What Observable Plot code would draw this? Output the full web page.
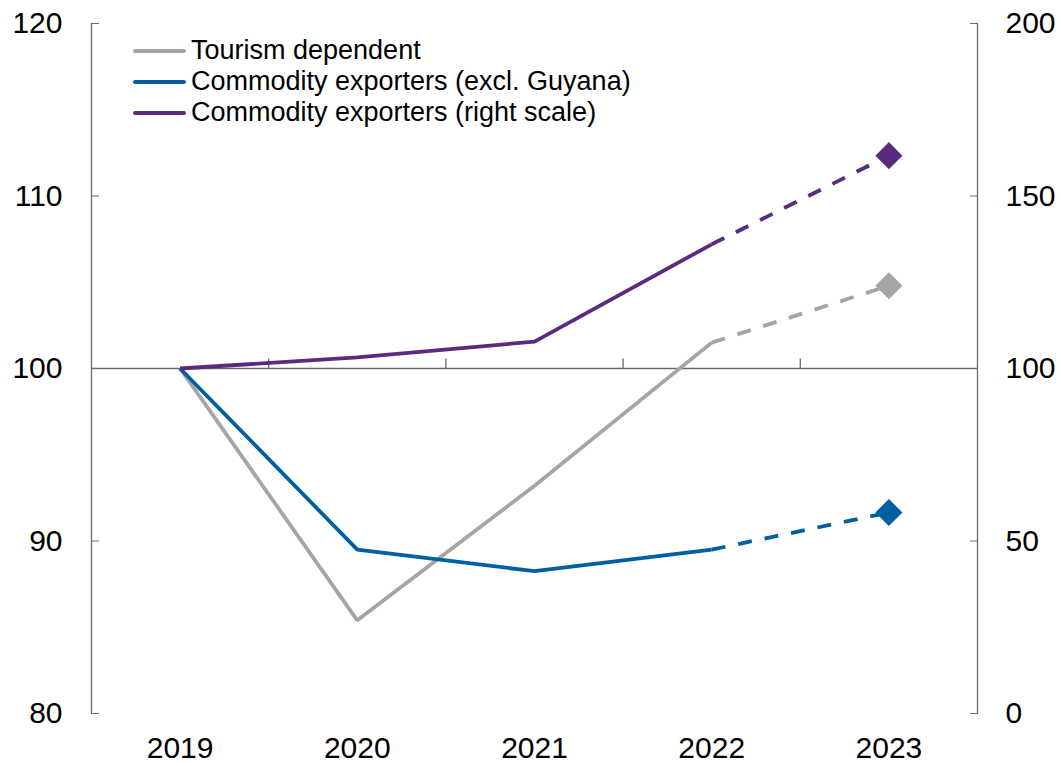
<!DOCTYPE html>
<html>
<head>
<meta charset="utf-8">
<script src="https://cdn.jsdelivr.net/npm/d3@7"></script>
<script src="https://cdn.jsdelivr.net/npm/@observablehq/plot@0.6"></script>
<style>
  html, body { margin: 0; padding: 0; background: #fff; }
  #wrap { position: relative; width: 1061px; height: 766px; font-family: "Liberation Sans", Arial, sans-serif; }
  #legend { position: absolute; left: 133px; top: 35px; font-size: 27px; color: #000; }
  .item { display: flex; align-items: center; height: 31px; }
  .swatch { width: 53px; height: 4px; border-radius: 2px; margin-right: 5px; }
</style>
</head>
<body>
<div id="wrap"><div id="legend"></div></div>
<script>
const years = [2019, 2020, 2021, 2022, 2023];
const tourism = [100, 85.4, 93.2, 101.5, 104.8];
const commodityExGuyana = [100, 89.5, 88.25, 89.5, 91.65];
const commodityRight = [100, 103.2, 107.8, 136.0, 161.7];
const seriesNames = ["Tourism dependent", "Commodity exporters (excl. Guyana)", "Commodity exporters (right scale)"];
const seriesColors = ["#A5A5A7", "#005F9F", "#5C2A7E"];
const leftTicks = [80, 90, 100, 110, 120];
const rightTicks = [0, 50, 100, 150, 200];
const lastActual = 2022;

// map right scale onto left scale
const leftDomain = [80, 120];
const rightDomain = [0, 200];
const toLeft = v => leftDomain[0] + (v - rightDomain[0]) * (leftDomain[1] - leftDomain[0]) / (rightDomain[1] - rightDomain[0]);
const toRight = v => rightDomain[0] + (v - leftDomain[0]) * (rightDomain[1] - rightDomain[0]) / (leftDomain[1] - leftDomain[0]);

const rows = [];
years.forEach((yr, i) => {
  rows.push({year: yr, value: tourism[i], series: seriesNames[0]});
  rows.push({year: yr, value: commodityExGuyana[i], series: seriesNames[1]});
  rows.push({year: yr, value: toLeft(commodityRight[i]), series: seriesNames[2]});
});
const solid = rows.filter(d => d.year <= lastActual);
const dashed = rows.filter(d => d.year >= lastActual);
const lastPts = rows.filter(d => d.year === years[years.length - 1]);

const xDomain = [years[0] - 0.5, years[years.length - 1] + 0.5];
const boundaries = years.slice(0, -1).map(y => y + 0.5);
const axisColor = "#6a6a6a";

const chart = Plot.plot({
  width: 1061,
  height: 766,
  marginLeft: 91,
  marginRight: 84,
  marginTop: 23,
  marginBottom: 53,
  style: {fontFamily: "'Liberation Sans', Arial, sans-serif", fontSize: "30px", color: "#000", background: "#fff"},
  x: {type: "linear", domain: xDomain},
  y: {domain: leftDomain},
  color: {domain: seriesNames, range: seriesColors},
  marks: [
    Plot.ruleY([100], {stroke: axisColor, strokeWidth: 1.3}),
    Plot.ruleX(boundaries, {y1: 100, y2: 100.55, stroke: axisColor, strokeWidth: 1.3}),
    Plot.ruleX([xDomain[0], xDomain[1]], {y1: leftDomain[0], y2: leftDomain[1], stroke: axisColor, strokeWidth: 1.3}),
    Plot.axisY({anchor: "left", ticks: leftTicks, tickSize: -8, tickPadding: 37, stroke: axisColor, fill: "#000", label: null, tickFormat: d => d}),
    Plot.axisY({anchor: "right", ticks: rightTicks.map(toLeft), tickSize: -8, tickPadding: 36, stroke: axisColor, fill: "#000", label: null, tickFormat: d => Math.round(toRight(d))}),
    Plot.axisX({anchor: "bottom", ticks: years, tickSize: 0, tickPadding: 23, tickFormat: d => String(d), fill: "#000", label: null}),
    Plot.line(solid, {x: "year", y: "value", z: "series", stroke: "series", strokeWidth: 3.8, strokeLinejoin: "miter", strokeLinecap: "butt"}),
    Plot.line(dashed, {x: "year", y: "value", z: "series", stroke: "series", strokeWidth: 3.8, strokeDasharray: "14,13", strokeLinecap: "butt"}),
    Plot.dot(lastPts, {x: "year", y: "value", fill: "series", symbol: "diamond2", r: 12.2, stroke: "none"})
  ]
});
document.getElementById("wrap").prepend(chart);

const legend = document.getElementById("legend");
seriesNames.forEach((name, i) => {
  const item = document.createElement("div");
  item.className = "item";
  const sw = document.createElement("div");
  sw.className = "swatch";
  sw.style.background = seriesColors[i];
  const tx = document.createElement("span");
  tx.textContent = name;
  item.appendChild(sw);
  item.appendChild(tx);
  legend.appendChild(item);
});
</script>
</body>
</html>
